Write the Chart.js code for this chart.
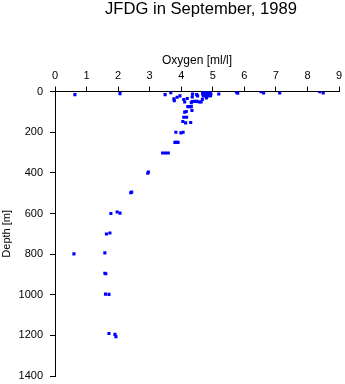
<!DOCTYPE html>
<html>
<head>
<meta charset="utf-8">
<title>JFDG in September, 1989</title>
<script src="https://cdn.jsdelivr.net/npm/chart.js@4"></script>
<style>
  html, body { margin: 0; padding: 0; background: #fff; }
  canvas { display: block; }
</style>
</head>
<body>
<canvas id="oxygenChart" width="345" height="384"></canvas>
<script>
// oxygen [ml/l] and depth [m] of each sample
var oxygen = [
    0.63, 2.06, 3.49, 3.67, 3.77, 3.78, 3.87, 3.96, 4.08, 4.11,
    4.19, 4.21, 4.28, 4.32, 4.11, 4.16, 4.08, 4.17, 4.05, 4.14,
    4.30, 4.34, 4.35, 4.36, 4.42, 4.50, 4.32, 4.49, 4.52, 4.57,
    4.35, 4.63, 4.67, 4.80,
    4.68, 4.75, 4.83, 4.92, 4.68, 4.76, 4.85, 4.94, 4.70, 4.78, 4.87, 4.93,
    4.72, 4.80, 4.88, 4.72, 4.81, 4.90,
    5.19, 5.75, 5.79, 6.53, 6.61, 7.12, 8.39, 8.50,
    3.83, 3.99, 4.06, 3.80, 3.85, 3.90, 3.41, 3.50, 3.59,
    2.94, 2.96, 2.40, 2.43, 1.77, 1.97, 2.06, 1.63, 1.74,
    0.60, 1.58, 1.58, 1.61, 1.60, 1.71, 1.71, 1.90, 1.93
];
var depth = [
    15, 10, 15, 5, 36, 45, 28, 21, 39, 51,
    34, 74, 74, 74, 101, 98, 126, 126, 147, 154,
    152, 93, 26, 12, 48, 48, 54, 15, 21, 51,
    49, 51, 38, 31,
    3, 3, 3, 3, 12, 12, 12, 12, 22, 22, 22, 20,
    7, 7, 7, 17, 17, 17,
    12, 3, 8, 0, 7, 7, 0, 7,
    200, 203, 200, 250, 250, 250, 302, 302, 302,
    402, 396, 498, 495, 600, 593, 598, 701, 696,
    799, 794, 894, 897, 997, 998, 1191, 1195, 1206
];
var oxygenTicks = [0, 9, 1];      // min, max, step
var depthTicks = [0, 1400, 200];

var points = oxygen.map(function(o, i) {
    return { x: o, y: depth[i] };
});

var fontFamily = '"Liberation Sans", Arial, Helvetica, sans-serif';
Chart.defaults.font.family = fontFamily;
Chart.defaults.color = '#000';

// the title sits a little right of the canvas centre, over the plot
var titleOverPlot = {
    id: 'titleOverPlot',
    afterLayout: function(chart) {
        if (chart.titleBlock) {
            chart.titleBlock.left = chart.chartArea.left + 8;
            chart.titleBlock.right = chart.chartArea.right;
        }
    }
};

function plainNumber(value) {
    return String(value);
}

new Chart(document.getElementById('oxygenChart'), {
    type: 'scatter',
    data: {
        datasets: [{
            label: 'Oxygen',
            data: points,
            backgroundColor: '#0000ff',
            borderColor: '#0000ff',
            borderWidth: 0,
            pointStyle: 'rect',
            pointRadius: 2.2,
            pointHoverRadius: 2.2
        }]
    },
    plugins: [titleOverPlot],
    options: {
        responsive: false,
        animation: false,
        events: [],
        layout: { padding: { top: 0, left: 0, right: 6, bottom: 8 } },
        plugins: {
            legend: { display: false },
            tooltip: { enabled: false },
            title: {
                display: true,
                text: 'JFDG in September, 1989',
                color: '#000',
                font: { size: 16.6, weight: 'normal', lineHeight: 1 },
                padding: { top: 1, bottom: 36 }
            }
        },
        scales: {
            x: {
                type: 'linear',
                position: 'top',
                min: oxygenTicks[0],
                max: oxygenTicks[1],
                afterFit: function(scale) {
                    scale.height = 38;
                    scale.paddingLeft = 0;
                    scale.paddingRight = 0;
                },
                ticks: {
                    stepSize: oxygenTicks[2],
                    padding: 4,
                    maxRotation: 0,
                    color: '#000',
                    font: { size: 11 },
                    callback: plainNumber
                },
                grid: {
                    drawOnChartArea: false,
                    tickLength: 5,
                    color: '#000'
                },
                border: { color: '#000', width: 1 },
                title: {
                    display: true,
                    text: 'Oxygen [ml/l]',
                    color: '#000',
                    font: { size: 12 },
                    padding: 0
                }
            },
            y: {
                type: 'linear',
                reverse: true,
                min: depthTicks[0],
                max: depthTicks[1],
                afterFit: function(scale) {
                    scale.width = 55;
                    scale.paddingTop = 0;
                    scale.paddingBottom = 0;
                },
                ticks: {
                    stepSize: depthTicks[2],
                    padding: 7,
                    color: '#000',
                    font: { size: 11 },
                    callback: plainNumber
                },
                grid: {
                    drawOnChartArea: false,
                    tickLength: 5,
                    color: '#000'
                },
                border: { color: '#000', width: 1 },
                title: {
                    display: true,
                    text: 'Depth [m]',
                    color: '#000',
                    font: { size: 11 },
                    padding: 0
                }
            }
        }
    }
});
</script>
</body>
</html>
